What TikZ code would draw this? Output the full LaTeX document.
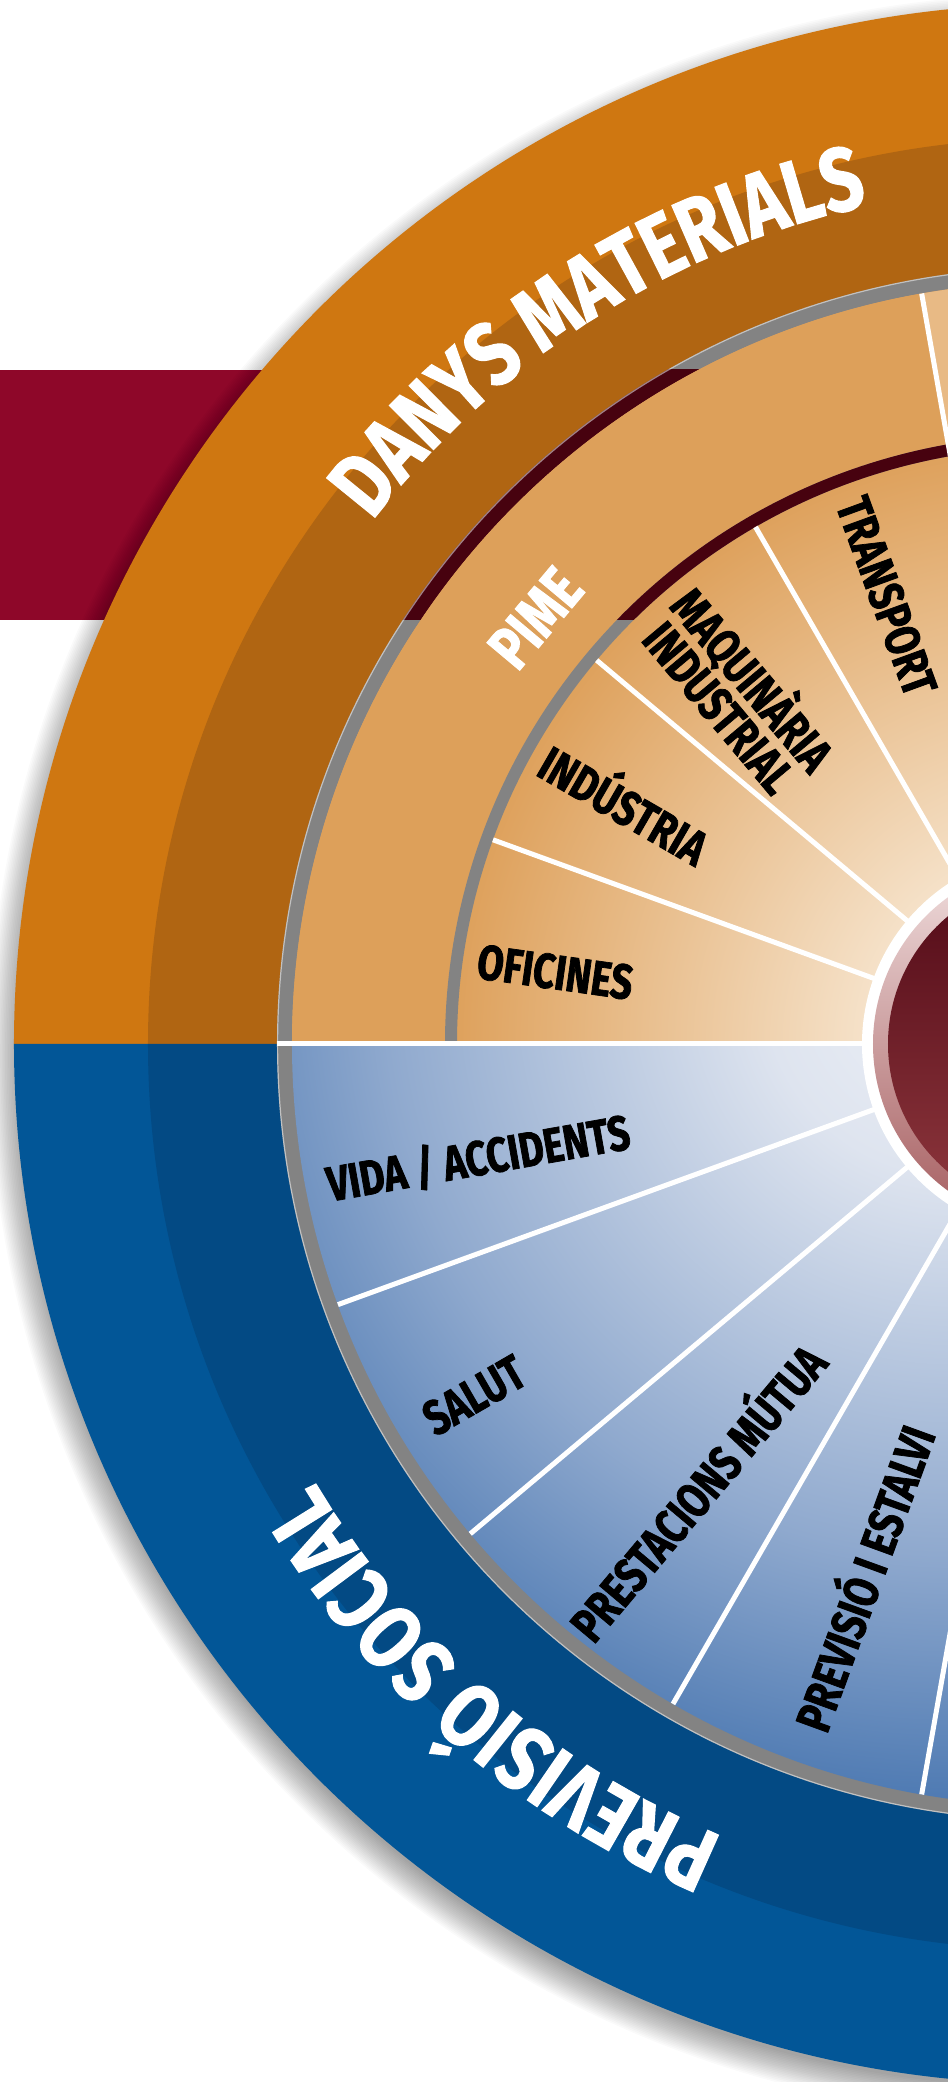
\documentclass[tikz,border=0pt]{standalone}
\usepackage{fontspec}
\newfontfamily\bigf[FakeStretch=0.8, BoldFeatures={FakeBold=1.2}]{Fira Sans}
\newfontfamily\smf[FakeStretch=0.78, BoldFeatures={FakeBold=1.5}]{Fira Sans}
\usetikzlibrary{decorations.text}
\definecolor{crim}{HTML}{8E0729}
\definecolor{orA}{HTML}{CF7711}
\definecolor{orB}{HTML}{B06512}
\definecolor{blA}{HTML}{025697}
\definecolor{blB}{HTML}{034A84}
\definecolor{rimg}{HTML}{838383}
\definecolor{rimm}{HTML}{47020F}
\definecolor{pime}{HTML}{DDA05A}
\definecolor{orL}{HTML}{E8BA85}
\definecolor{or1}{HTML}{F8E9D7}
\definecolor{or2}{HTML}{F5E1C8}
\definecolor{or3}{HTML}{DEA15C}
\definecolor{bl1}{HTML}{EEF1F7}
\definecolor{bl2}{HTML}{DEE4EF}
\definecolor{bl3}{HTML}{8FA9CE}
\definecolor{bl4}{HTML}{3F6FAC}
\definecolor{pk1}{HTML}{F0DEDE}
\definecolor{pk2}{HTML}{A55C5E}
\definecolor{dr1}{HTML}{520A17}
\definecolor{dr2}{HTML}{8E373D}
\pgfdeclareradialshading{orsh}{\pgfpoint{0bp}{0bp}}{color(0bp)=(or1); color(6.3bp)=(or2); color(19.7bp)=(or3); color(50bp)=(or3)}
\pgfdeclareradialshading{blsh}{\pgfpoint{0bp}{0bp}}{color(0bp)=(bl1); color(5bp)=(bl2); color(15bp)=(bl3); color(23bp)=(bl4); color(50bp)=(bl4)}
\begin{document}
\begin{tikzpicture}[x=1pt,y=1pt,
  lab/.style={font=\smf\bfseries\fontsize{49}{38}\selectfont, text=black, inner sep=0pt, align=center},
  wlab/.style={lab, text=white, font=\smf\bfseries\fontsize{62}{62}\selectfont},
  divl/.style={white, line width=5pt},
  band/.style={crim}
]
\useasboundingbox (-1054,-1038) rectangle (-106,1044);
\clip (-1054,-1038) rectangle (-106,1044);
\fill[white] (-1054,-1038) rectangle (-106,1044);
\fill[band] (-1054,424) rectangle (-106,674);
% soft shadow of the wheel
\foreach \i in {1,...,20} \fill[black,opacity=0.02] (-3,-12) circle ({1030+1.6*\i});
% outer rings
\fill[orA] (0:1040) arc[start angle=0,end angle=180,radius=1040] -- cycle;
\fill[blA] (180:1040) arc[start angle=180,end angle=360,radius=1040] -- cycle;
\fill[orB] (0:906) arc[start angle=0,end angle=180,radius=906] -- cycle;
\fill[blB] (180:906) arc[start angle=180,end angle=360,radius=906] -- cycle;
% outer gap
\fill[rimg] (0,0) circle (777);
\begin{scope}
  \clip (-1054,424) rectangle (-106,674);
  \fill[rimm] (0,0) circle (777);
\end{scope}
\draw[white, opacity=0.5, line width=1.2pt] (0,0) circle (776.4);
% inner sectors
\begin{scope}
  \clip (0:762) arc[start angle=0,end angle=180,radius=762] -- cycle;
  \shade[shading=orsh] (0,0) circle (762);
\end{scope}
\begin{scope}
  \clip (180:762) arc[start angle=180,end angle=360,radius=762] -- cycle;
  \shade[shading=blsh] (-100,60) circle (950);
\end{scope}
\fill[orL] (80:597) arc[start angle=80,end angle=100,radius=597] -- (100:762) arc[start angle=100,end angle=80,radius=762] -- cycle;
% PIME ring
\fill[pime] (100:609) arc[start angle=100,end angle=180,radius=609] -- (180:762) arc[start angle=180,end angle=100,radius=762] -- cycle;
% inner gap
\fill[rimg] (100:597) arc[start angle=100,end angle=180,radius=597] -- (180:609) arc[start angle=180,end angle=100,radius=609] -- cycle;
\begin{scope}
  \clip (-1054,424) rectangle (-106,674);
  \fill[rimm] (100:597) arc[start angle=100,end angle=180,radius=597] -- (180:609) arc[start angle=180,end angle=100,radius=609] -- cycle;
\end{scope}
% dividers
\foreach \a in {120,140,160} \draw[divl] (\a:181) -- (\a:597);
\draw[divl] (100:181) -- (100:762);
\draw[divl] (180:181) -- (180:777);
\foreach \a in {200,220,240,260} \draw[divl] (\a:181) -- (\a:762);
% centre
\fill[white] (0,0) circle (192);
\shade[top color=pk1, bottom color=pk2] (0,0) circle (181);
\shade[top color=dr1, bottom color=dr2] (0,0) circle (166);
% labels
\node[lab, rotate=-8] (ofi) at (171.8:504) {OFICINES};
\node[lab, rotate=-30] (ind) at (150.4:492) {INDÚSTRIA};
\node[lab, rotate=-50] (maq) at (131.6:473) {MAQUINÀRIA\\INDUSTRIAL};
\node[lab, rotate=-70] (tra) at (110.5:478) {TRANSPORT};
\node[wlab, rotate=50] (pime) at (140.6:671) {PIME};
\node[lab, rotate=10] (vida) at (191.2:587) {VIDA / ACCIDENTS};
\node[lab, rotate=30] (salut) at (211.2:678) {SALUT};
\node[lab, rotate=50] (prest) at (231.1:573) {PRESTACIONS MÚTUA};
\node[lab, rotate=70] (prev) at (250:567) {PREVISIÓ I ESTALVI};
% curved titles
\path[decorate, decoration={text along path, text align=center, text color=white,
  text={|\bigf\bfseries\fontsize{90}{90}\selectfont|DANYS MATERIALS}}]
  (165:859) arc[start angle=165, end angle=80, radius=859];
\path[decorate, decoration={text along path, text align=center, text color=white,
  text={|\bigf\bfseries\fontsize{90}{90}\selectfont|PREVISIÓ SOCIAL}}]
  (270:859) arc[start angle=270, end angle=188, radius=859];
\end{tikzpicture}
\end{document}
